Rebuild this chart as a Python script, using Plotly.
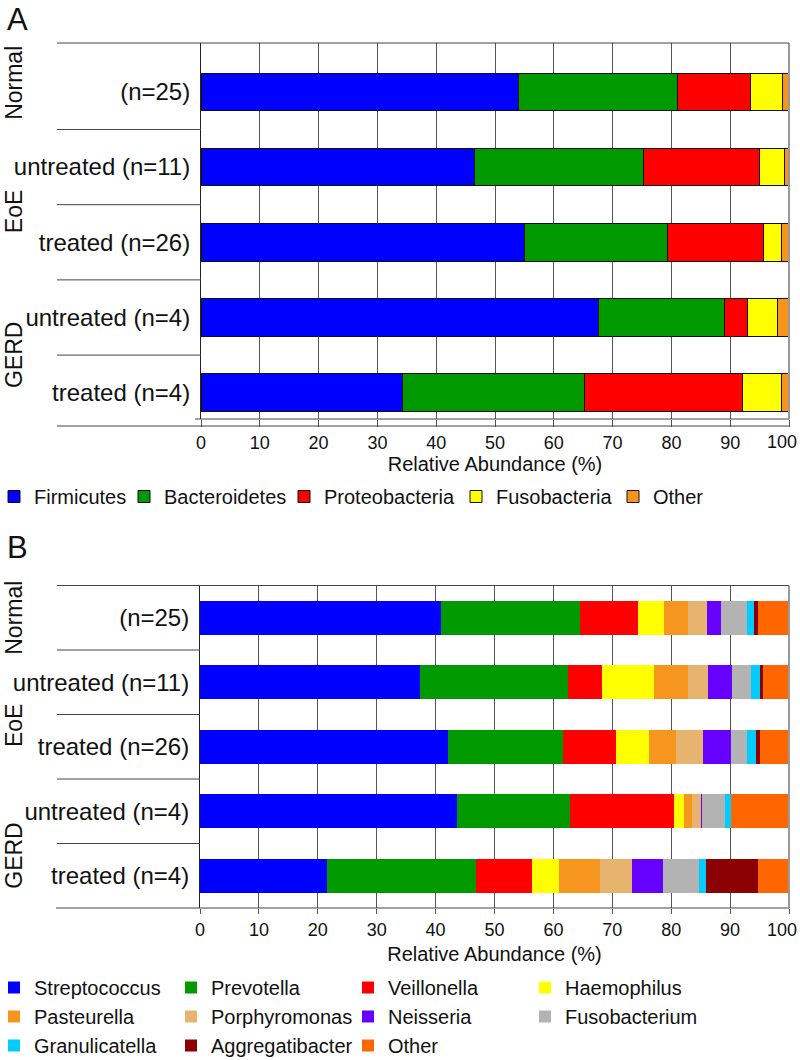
import plotly.graph_objects as go

# ---------------- data ----------------
row_labels = ["(n=25)", "untreated (n=11)", "treated (n=26)", "untreated (n=4)", "treated (n=4)"]
group_names = ["Normal", "EoE", "GERD"]
x_ticks = [0, 10, 20, 30, 40, 50, 60, 70, 80, 90, 100]
x_tick_text = ["0", "10", "20", "30", "40", "50", "60", "70", "80", "90", "100"]

# Panel A: phyla (relative abundance, %)
phyla = ["Firmicutes", "Bacteroidetes", "Proteobacteria", "Fusobacteria", "Other"]
firmicutes = [54.0, 46.5, 55.0, 67.6, 34.2]
bacteroidetes = [27.1, 28.7, 24.4, 21.4, 31.1]
proteobacteria = [12.4, 19.8, 16.3, 4.0, 26.8]
fusobacteria = [5.4, 4.2, 3.1, 5.0, 6.6]
other_phyla = [1.1, 0.8, 1.2, 2.0, 1.3]

# Panel B: genera (relative abundance, %)
genera = ["Streptococcus", "Prevotella", "Veillonella", "Haemophilus", "Pasteurella",
          "Porphyromonas", "Neisseria", "Fusobacterium", "Granulicatella",
          "Aggregatibacter", "Other"]
streptococcus = [40.9, 37.4, 42.1, 43.7, 21.6]
prevotella = [23.7, 25.0, 19.5, 19.2, 25.3]
veillonella = [9.8, 5.8, 9.1, 17.6, 9.5]
haemophilus = [4.4, 8.9, 5.5, 1.6, 4.5]
pasteurella = [4.0, 5.7, 4.6, 1.5, 7.0]
porphyromonas = [3.3, 3.4, 4.6, 1.5, 5.5]
neisseria = [2.4, 4.1, 4.8, 0.2, 5.2]
fusobacterium = [4.3, 3.3, 2.6, 3.9, 6.2]
granulicatella = [1.3, 1.4, 1.6, 0.9, 1.1]
aggregatibacter = [0.6, 0.5, 0.6, 0.0, 8.9]
other_genera = [5.3, 4.5, 5.0, 9.9, 5.2]

# ---------------- style ----------------
W, H = 800, 1060
FONT = "Liberation Sans, Arial, Helvetica, sans-serif"
phyla_colors = ["#0000FF", "#009900", "#FF0000", "#FFFF00", "#F7941D"]
phyla_legend_widths = [91, 121, 133, 118, 60]
genus_colors = ["#0000FF", "#009900", "#FF0000", "#FFFF00", "#F7961E", "#E6B46E",
                "#6600FF", "#B3B3B3", "#00CCFF", "#8B0000", "#FF6600"]

def px_x(p):  # pixel -> paper x
    return p / W

def px_y(p):  # pixel -> paper y
    return (H - p) / H

# plot-area pixel boxes
A_left, A_right, A_top, A_bot = 201, 789, 43, 419
B_left, B_right, B_top, B_bot = 200, 789, 585.5, 908

# the last tick label sits flush with the page edge (as in the original figure),
# so it is drawn as a right-anchored label; the others are ordinary tick labels
tick_text_display = x_tick_text[:-1] + [""]

fig = go.Figure()

phyla_values = [firmicutes, bacteroidetes, proteobacteria, fusobacteria, other_phyla]
for name, vals, col, lw in zip(phyla, phyla_values, phyla_colors, phyla_legend_widths):
    fig.add_trace(go.Bar(
        x=vals, y=row_labels, orientation="h", name=name,
        marker=dict(color=col, line=dict(color="#111111", width=1)),
        width=0.5, xaxis="x", yaxis="y", legend="legend", legendwidth=lw,
    ))

genus_values = [streptococcus, prevotella, veillonella, haemophilus, pasteurella,
                porphyromonas, neisseria, fusobacterium, granulicatella,
                aggregatibacter, other_genera]
for name, vals, col in zip(genera, genus_values, genus_colors):
    fig.add_trace(go.Bar(
        x=vals, y=row_labels, orientation="h", name=name,
        marker=dict(color=col, line=dict(width=0)),
        width=0.52, xaxis="x2", yaxis="y2", legend="legend2",
    ))

xaxis_common = dict(
    range=[0, 100], tickmode="array", tickvals=x_ticks, ticktext=tick_text_display,
    showgrid=True, gridcolor="#555555", gridwidth=1, zeroline=False,
    ticks="outside", tickcolor="#555555", tickwidth=1,
    tickfont=dict(size=18, color="#111111", family=FONT),
    ticklabeloverflow="allow", automargin=False,
    showline=False, fixedrange=True,
)
yaxis_common = dict(
    type="category", categoryorder="array", categoryarray=row_labels,
    showgrid=False, zeroline=False, ticks="", showline=True,
    linecolor="#222222", linewidth=1, automargin=False,
    tickfont=dict(size=24, color="#111111", family=FONT),
    ticklabelstandoff=5, fixedrange=True,
)

legend_common = dict(
    orientation="h", xref="paper", x=0, xanchor="left", yanchor="top",
    font=dict(size=20, family=FONT, color="#111111"), indentation=-6,
    itemclick=False, itemdoubleclick=False, bgcolor="rgba(0,0,0,0)",
    traceorder="normal", borderwidth=0, tracegroupgap=0,
)

fig.update_layout(
    width=W, height=H, margin=dict(l=0, r=0, t=0, b=0, autoexpand=False),
    paper_bgcolor="white", plot_bgcolor="white",
    barmode="stack", bargap=0.5,
    font=dict(family=FONT, color="#111111"),
    xaxis=dict(xaxis_common, domain=[px_x(A_left), px_x(A_right)], anchor="y", ticklen=7,
               title=dict(text="Relative Abundance (%)", font=dict(size=20), standoff=4)),
    yaxis=dict(yaxis_common, domain=[px_y(A_bot), px_y(A_top)], anchor="x",
               range=[4.35, -0.65]),
    xaxis2=dict(xaxis_common, domain=[px_x(B_left), px_x(B_right)], anchor="y2", ticklen=5,
                title=dict(text="Relative Abundance (%)", font=dict(size=20), standoff=8)),
    yaxis2=dict(yaxis_common, domain=[px_y(B_bot), px_y(B_top)], anchor="x2",
                range=[4.5, -0.5]),
    legend=dict(legend_common, y=px_y(477)),
    legend2=dict(legend_common, y=px_y(968), entrywidth=138, entrywidthmode="pixels"),
    showlegend=True,
)

# ---------- decorative lines (table structure) ----------
shapes = []
def hline(x0, x1, yv, yref, color="#444444", width=1):
    shapes.append(dict(type="line", xref="paper", yref=yref, x0=x0, x1=x1, y0=yv, y1=yv,
                       line=dict(color=color, width=width), layer="above"))

# Panel A
hline(px_x(57), px_x(A_right), 1, "y domain")
for b in [0.5, 1.5, 2.5, 3.5]:
    hline(px_x(57), px_x(A_left), b, "y")
hline(px_x(195), px_x(A_right), 0, "y domain")
hline(px_x(57), px_x(A_right), -7 / (A_bot - A_top), "y domain")
shapes.append(dict(type="line", xref="x domain", yref="y domain", x0=1, x1=1, y0=0, y1=1,
                   line=dict(color="#999999", width=2), layer="above"))
# Panel B
hline(px_x(57), px_x(B_right), 1, "y2 domain")
for b in [0.5, 1.5, 2.5, 3.5]:
    hline(px_x(57), px_x(B_left), b, "y2")
hline(px_x(56), px_x(B_right), 0, "y2 domain")
shapes.append(dict(type="line", xref="x2 domain", yref="y2 domain", x0=1, x1=1, y0=0, y1=1,
                   line=dict(color="#999999", width=2), layer="above"))
fig.update_layout(shapes=shapes)

# ---------- group labels, panel letters, end tick labels ----------
ann = []
for name, yv in zip(group_names, [-0.12, 1.6, 3.5]):
    ann.append(dict(text=name, xref="paper", yref="y", x=px_x(14), y=yv, textangle=-90,
                    showarrow=False, xanchor="center", yanchor="middle",
                    font=dict(size=23, family=FONT, color="#111111")))
for name, yv in zip(group_names, [0.0, 1.68, 3.69]):
    ann.append(dict(text=name, xref="paper", yref="y2", x=px_x(14), y=yv, textangle=-90,
                    showarrow=False, xanchor="center", yanchor="middle",
                    font=dict(size=23, family=FONT, color="#111111")))
ann.append(dict(text="A", xref="paper", yref="paper", x=px_x(17), y=px_y(19),
                showarrow=False, xanchor="center", yanchor="middle",
                font=dict(size=31, family=FONT, color="#111111")))
ann.append(dict(text="B", xref="paper", yref="paper", x=px_x(17), y=px_y(547),
                showarrow=False, xanchor="center", yanchor="middle",
                font=dict(size=31, family=FONT, color="#111111")))
for xref, label_y in [("x", 442), ("x2", 930)]:
    ann.append(dict(text=x_tick_text[-1], xref=xref, yref="paper", x=x_ticks[-1],
                    y=px_y(label_y), xanchor="right", yanchor="middle", xshift=9,
                    showarrow=False, borderpad=0,
                    font=dict(size=18, family=FONT, color="#111111")))
fig.update_layout(annotations=ann)

# the page body's default 8px margin would shift the 800x1060 figure; remove it
fig.write_html("out.html", config={"displayModeBar": False},
               post_script="document.body.style.margin='0px';")
